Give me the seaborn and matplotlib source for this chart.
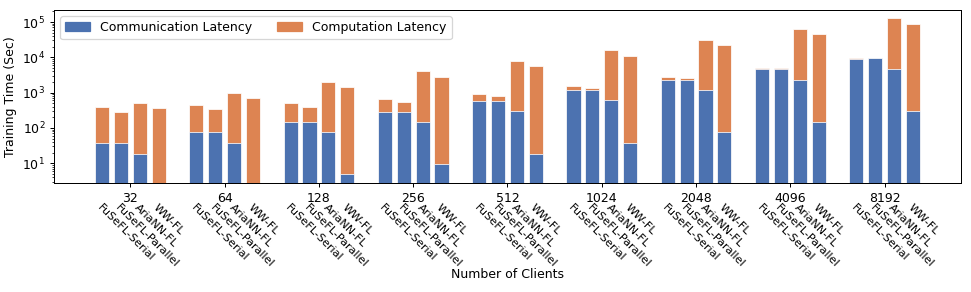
import matplotlib
matplotlib.use("Agg")
import matplotlib.pyplot as plt
import matplotlib.transforms as mtransforms
from matplotlib.patches import Patch
import seaborn as sns
import pandas as pd

clients = ["32", "64", "128", "256", "512", "1024", "2048", "4096", "8192"]
methods = ["FuSeFL-Serial", "FuSeFL-Parallel", "AriaNN-FL", "WW-FL"]

# communication latency (sec)
comm = {
    "FuSeFL-Serial": [37, 75, 148, 290, 593, 1190, 2330, 4690, 9180],
    "FuSeFL-Parallel": [37, 75, 148, 290, 593, 1190, 2330, 4690, 9300],
    "AriaNN-FL": [18.7, 37.6, 75, 148, 302, 618, 1190, 2330, 4690],
    "WW-FL": [1.2, 2.4, 5.1, 9.6, 18.7, 37, 75, 148, 297],
}
# computation latency (sec), stacked on top
comp = {
    "FuSeFL-Serial": [365, 365, 352, 360, 344, 320, 400, 310, 620],
    "FuSeFL-Parallel": [253, 264, 237, 255, 230, 190, 230, 300, 150],
    "AriaNN-FL": [481, 942, 1965, 3890, 7600, 15600, 30600, 60200, 123000],
    "WW-FL": [360, 688, 1415, 2830, 5580, 10960, 22800, 44850, 88000],
}

blue, orange = sns.color_palette("deep")[0], sns.color_palette("deep")[1]

rows = []
for m in methods:
    for c, a, b in zip(clients, comm[m], comp[m]):
        rows.append({"clients": c, "method": m, "comm": a, "total": a + b})
df = pd.DataFrame(rows)

plt.rcParams["font.size"] = 10
fig, ax = plt.subplots(figsize=(971 / 90, 292 / 90), dpi=90)
fig.subplots_adjust(left=0.0556, right=0.9897, top=0.966, bottom=0.372)

# total first (orange), communication part drawn over it (blue)
sns.barplot(data=df, x="clients", y="total", hue="method", order=clients,
            hue_order=methods, palette=[orange] * 4, saturation=1,
            width=0.8, gap=0.25, edgecolor="white", linewidth=0.6,
            legend=False, ax=ax)
sns.barplot(data=df, x="clients", y="comm", hue="method", order=clients,
            hue_order=methods, palette=[blue] * 4, saturation=1,
            width=0.8, gap=0.25, edgecolor="white", linewidth=0.6,
            legend=False, ax=ax)

ax.set_yscale("log")
ax.set_ylim(2.7, 2.2e5)
ax.set_xlim(-0.81, 8.81)
ax.set_xlabel("Number of Clients", labelpad=50)
ax.set_ylabel("Training Time (Sec)")

# method names under each bar
trans = mtransforms.blended_transform_factory(ax.transData, ax.transAxes)
for cont, m in zip(ax.containers[:4], methods):
    for bar in cont:
        x = bar.get_x() + bar.get_width() / 2
        ax.text(x, -0.11, m, transform=trans, rotation=-45, ha="left",
                va="top", rotation_mode="anchor", fontsize=9)

ax.legend(handles=[Patch(color=blue, label="Communication Latency"),
                   Patch(color=orange, label="Computation Latency")],
          loc="upper left", ncol=2)

fig.savefig("out.png", dpi=90)
